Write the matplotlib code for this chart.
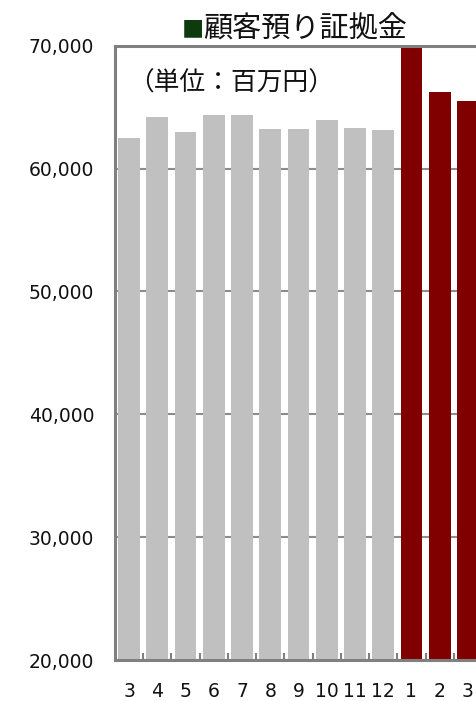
import matplotlib
matplotlib.use('Agg')
import matplotlib.pyplot as plt
import numpy as np

plt.rcParams['font.family'] = ['DejaVu Sans', 'Noto Sans CJK JP']

# 月別の顧客預り証拠金（百万円）
months = ['3', '4', '5', '6', '7', '8', '9', '10', '11', '12', '1', '2', '3']
deposits = [62500, 64200, 63000, 64350, 64350, 63200, 63200, 63950, 63300, 63100,
            69800, 66250, 65500]
new_year_start = 10  # 1月以降は色を変える

bar_colors = ['#c0c0c0'] * new_year_start + ['#800000'] * (len(months) - new_year_start)

fig = plt.figure(figsize=(4.76, 7.01), dpi=100)
ax = fig.add_axes([115 / 476, 41 / 701, 367 / 476, 614.3 / 701])

x = np.arange(len(months))
ax.bar(x, deposits, width=0.77, color=bar_colors, zorder=3)

ax.set_ylim(20000, 70000)
ax.set_xlim(-0.5, len(months) - 0.5)
ax.set_yticks(np.arange(20000, 70001, 10000))
ax.yaxis.set_major_formatter(matplotlib.ticker.FuncFormatter(lambda v, p: f'{int(v):,}'))
ax.grid(axis='y', color='#8c8c8c', linewidth=1.5, zorder=1)

ax.set_xticks(x)
ax.set_xticklabels(months)
ax.set_xticks(np.arange(0.5, len(months) - 0.5, 1), minor=True)
ax.tick_params(axis='x', which='major', length=0, pad=16, labelsize=13.5, colors='#111111')
ax.tick_params(axis='x', which='minor', direction='in', length=5, width=1.5, color='#808080')
ax.tick_params(axis='y', length=0, pad=15, labelsize=13.5, colors='#111111')

for side in ['left', 'bottom', 'top', 'right']:
    ax.spines[side].set_color('#808080')
    ax.spines[side].set_linewidth(2.2)
    ax.spines[side].set_zorder(4)

ax.text(0.035, 0.96, '（単位：百万円）', transform=ax.transAxes, ha='left', va='top',
        fontsize=18.5, family=['Noto Sans CJK JP'], color='#111111')

# タイトル（■だけ緑）
fig.text(182 / 476, 1 - 30 / 701, '■', fontsize=16, family=['Noto Sans CJK JP'],
         color='#0d3b0d', ha='left', va='center')
fig.text(203 / 476, 1 - 30 / 701, '顧客預り証拠金', fontsize=21, family=['Noto Sans CJK JP'],
         color='#111111', ha='left', va='center')

fig.savefig('out.png', dpi=100)
